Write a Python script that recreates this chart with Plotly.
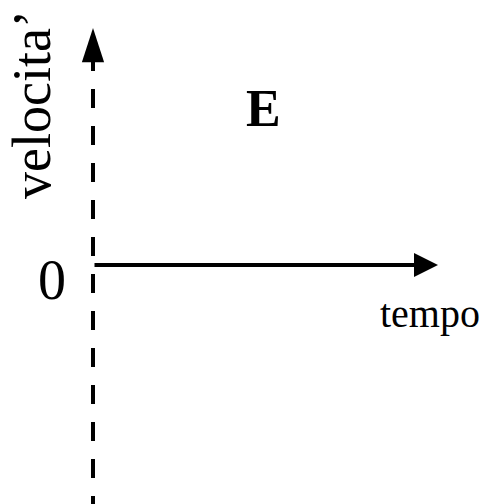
import plotly.graph_objects as go

# ---- chart content ----
time_axis = [0.0, 1.0]           # horizontal arrow: time from origin to arrow tip
velocity_axis = [-1.01, 1.0]     # vertical (dashed) velocity axis extent, tip at top
dash_top = 0.899                 # where the dashed part of the velocity axis ends
zero_label = ["0"]
axis_titles = ["tempo", "velocita’"]
panel_label = ["E"]

W, H = 487, 504
ox, oy = 93, 265               # pixel of the origin inside the figure
sx, sy = 345, 237              # pixels per unit

x_range = [-ox / sx, (W - ox) / sx]
y_range = [-(H - oy) / sy, oy / sy]


def px(x):
    return x / W


def py(y):
    return 1 - y / H


fig = go.Figure()

# dashed velocity axis
fig.add_trace(go.Scatter(
    x=[0, 0], y=[dash_top, velocity_axis[0]],
    mode="lines", line=dict(color="black", width=4, dash="19px,18px"),
    hoverinfo="skip", showlegend=False))

# vertical arrow head
fig.add_trace(go.Scatter(
    x=[0], y=[velocity_axis[1]], mode="markers",
    marker=dict(symbol="arrow", size=36, angle=0, color="black", line=dict(width=0)),
    hoverinfo="skip", showlegend=False))

annotations = []
# horizontal time arrow
annotations.append(dict(
    x=time_axis[1], y=0, ax=time_axis[0], ay=0, xref="x", yref="y", axref="x", ayref="y",
    text="", showarrow=True, arrowhead=2, arrowwidth=4, arrowsize=1.2,
    arrowcolor="black"))

serif = "Liberation Serif, Times New Roman, serif"
# "0" label
annotations.append(dict(
    x=0, y=0, xref="x", yref="y", text=zero_label[0], showarrow=False,
    xanchor="center", yanchor="middle", xshift=-41, yshift=-15,
    font=dict(family=serif, size=56, color="black")))
# tempo
annotations.append(dict(
    x=px(430), y=py(313), xref="paper", yref="paper", text=axis_titles[0],
    showarrow=False, xanchor="center", yanchor="middle",
    font=dict(family=serif, size=40, color="black")))
# velocita'
annotations.append(dict(
    x=px(32), y=py(105), xref="paper", yref="paper", text=axis_titles[1],
    showarrow=False, xanchor="center", yanchor="middle", textangle=-90,
    font=dict(family=serif, size=54, color="black")))
# panel label E
annotations.append(dict(
    x=px(263), y=py(108), xref="paper", yref="paper", text="<b>%s</b>" % panel_label[0],
    showarrow=False, xanchor="center", yanchor="middle",
    font=dict(family=serif, size=52, color="black")))

fig.update_layout(
    width=W, height=H, margin=dict(l=0, r=0, t=0, b=0),
    paper_bgcolor="white", plot_bgcolor="white",
    xaxis=dict(range=x_range, visible=False, fixedrange=True),
    yaxis=dict(range=y_range, visible=False, fixedrange=True),
    annotations=annotations, showlegend=False)

# remove the browser's default 8px page margin so the figure fills the window
fig.write_html("out.html", config={"displayModeBar": False},
               post_script="document.body.style.margin='0px';")
